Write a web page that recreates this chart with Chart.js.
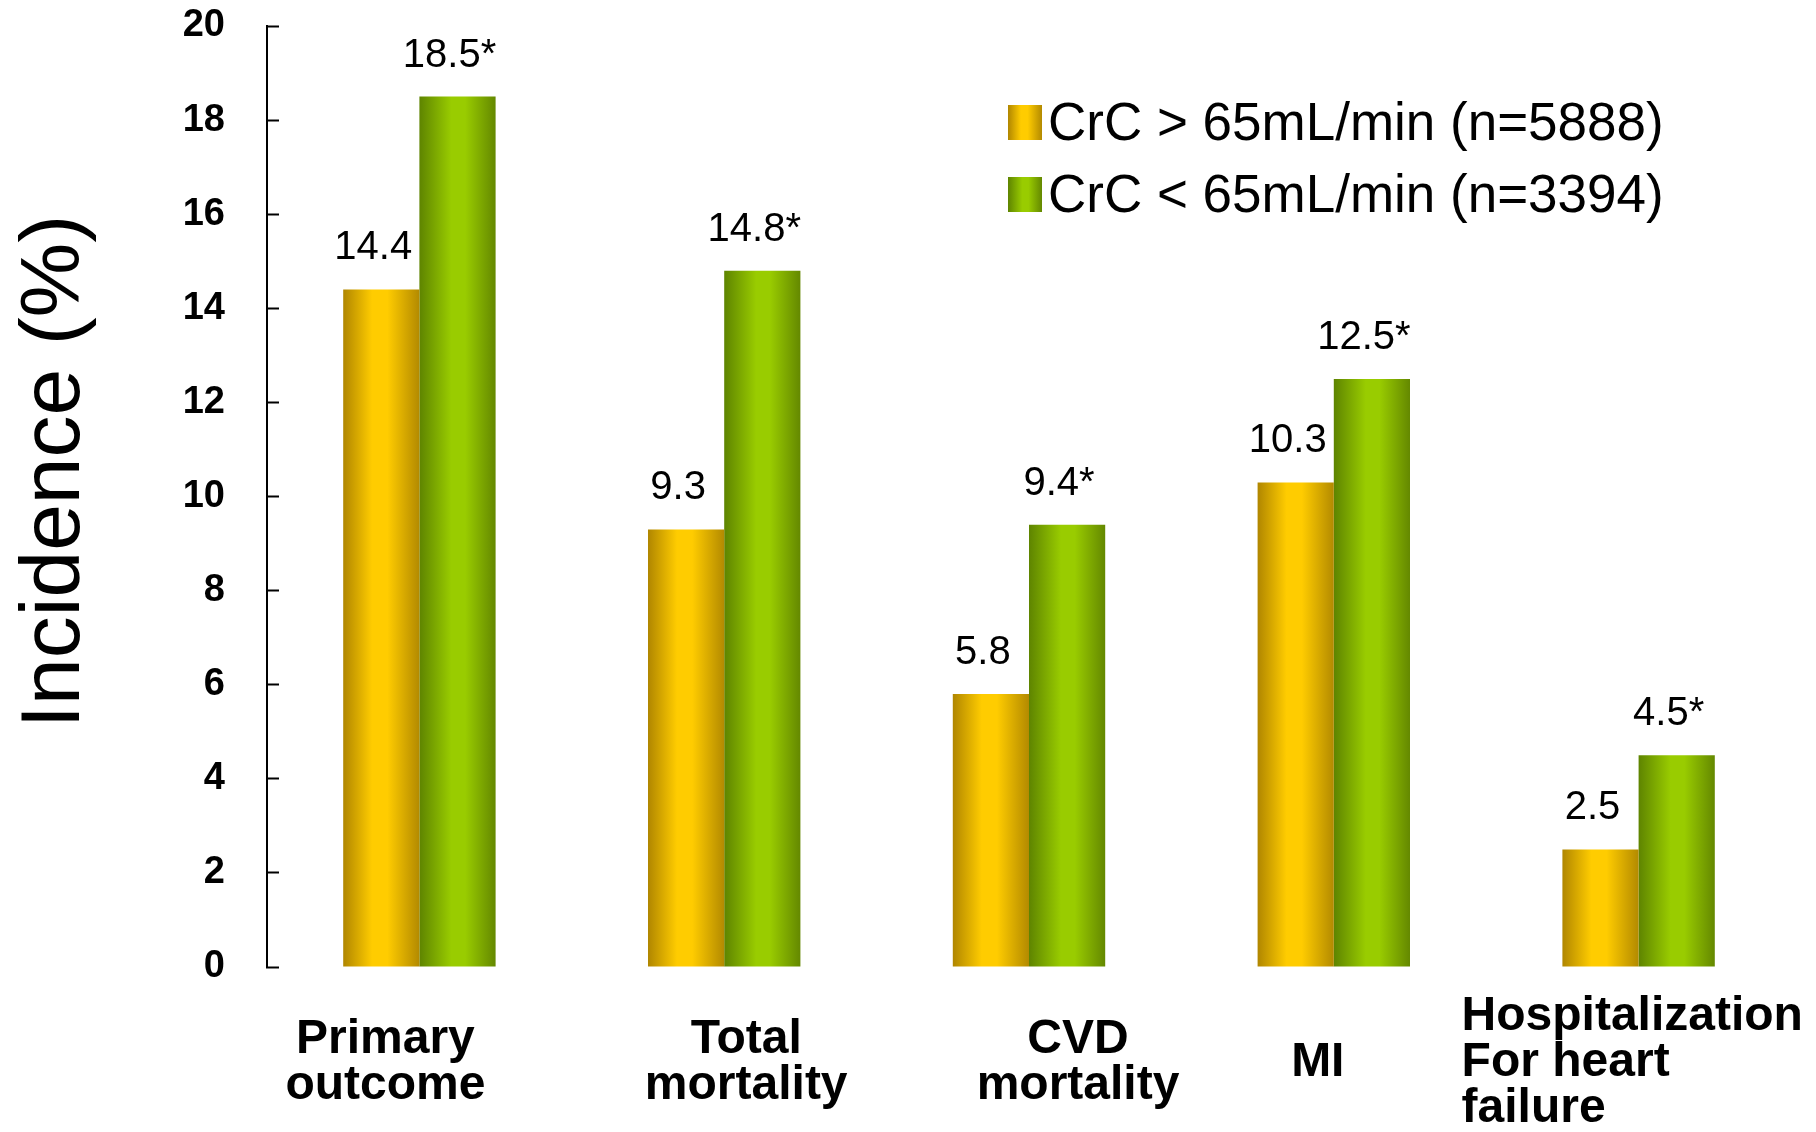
<!DOCTYPE html>
<html>
<head>
<meta charset="utf-8">
<script src="https://cdn.jsdelivr.net/npm/chart.js@4.4.1/dist/chart.umd.min.js"></script>
<style>
  html, body { margin: 0; padding: 0; background: #fff; }
  #chart { display: block; }
</style>
</head>
<body>
<canvas id="chart" width="1816" height="1132"></canvas>
<script>
  // data
  var categories = [['Primary', 'outcome'], ['Total', 'mortality'], ['CVD', 'mortality'], ['MI'], ['Hospitalization', 'For heart', 'failure']];
  var seriesNames = ['CrC > 65mL/min (n=5888)', 'CrC < 65mL/min (n=3394)'];
  var highCrC = [14.4, 9.3, 5.8, 10.3, 2.5];
  var lowCrC = [18.5, 14.8, 9.4, 12.5, 4.5];
  var valueMarks = ['', '*'];
  var yTitle = 'Incidence (%)';

  var FONT = '"Liberation Sans", Arial, sans-serif';
  var yellowStops = [[0, '#b08600'], [0.38, '#ffcc00'], [0.58, '#ffcc00'], [1, '#b38a00']];
  var greenStops = [[0, '#5e8400'], [0.42, '#99cc00'], [0.6, '#99cc00'], [1, '#648800']];

  function makeGradient(c, stops, left, right) {
    var g = c.createLinearGradient(left, 0, right, 0);
    stops.forEach(function(s) { g.addColorStop(s[0], s[1]); });
    return g;
  }

  function barFill(stops) {
    return function(ctx) {
      var chart = ctx.chart, x = chart.scales.x;
      if (!chart.chartArea || !x || ctx.dataIndex === undefined) return stops[1][1];
      var w = x.width / chart.data.labels.length * 0.5 / 2;
      var center = x.getPixelForValue(ctx.dataIndex);
      var left = center + (ctx.datasetIndex - 1) * w;
      return makeGradient(chart.ctx, stops, left, left + w);
    };
  }

  var valueLabels = {
    id: 'valueLabels',
    afterDatasetsDraw: function(chart) {
      var c = chart.ctx;
      c.save();
      c.font = '40px ' + FONT;
      c.fillStyle = '#000';
      c.textAlign = 'center';
      c.textBaseline = 'alphabetic';
      chart.data.datasets.forEach(function(ds, di) {
        chart.getDatasetMeta(di).data.forEach(function(bar, i) {
          c.fillText(ds.data[i] + valueMarks[di], bar.x - 8, bar.y - 30);
        });
      });
      c.restore();
    }
  };

  var categoryLabels = {
    id: 'categoryLabels',
    afterDraw: function(chart, args, opts) {
      var c = chart.ctx, x = chart.scales.x;
      var last = chart.data.labels.length - 1;
      var lh = 46, mid = chart.chartArea.bottom + 109;
      c.save();
      c.font = 'bold 48px ' + FONT;
      c.fillStyle = '#000';
      c.textBaseline = 'alphabetic';
      chart.data.labels.forEach(function(lines, i) {
        var px = x.getPixelForValue(i) + opts.shift[i];
        c.textAlign = i === last ? 'left' : 'center';
        var y0 = mid - (lines.length - 1) * lh / 2;
        lines.forEach(function(t, k) { c.fillText(t, px, y0 + k * lh); });
      });
      c.restore();
    }
  };

  var sideTitle = {
    id: 'sideTitle',
    afterDraw: function(chart) {
      var c = chart.ctx, a = chart.chartArea;
      c.save();
      c.translate(79, (a.top + a.bottom) / 2 - 25);
      c.rotate(-Math.PI / 2);
      c.font = '84px ' + FONT;
      c.fillStyle = '#000';
      c.textAlign = 'center';
      c.textBaseline = 'alphabetic';
      c.fillText(yTitle, 0, 0);
      c.restore();
    }
  };

  var boxLegend = {
    id: 'boxLegend',
    afterDraw: function(chart) {
      var c = chart.ctx;
      var stops = [yellowStops, greenStops];
      c.save();
      c.font = '53px ' + FONT;
      c.textAlign = 'left';
      c.textBaseline = 'alphabetic';
      chart.data.datasets.forEach(function(ds, i) {
        var top = 105 + i * 72;
        c.fillStyle = makeGradient(c, stops[i], 1008, 1042);
        c.fillRect(1008, top, 34, 35);
        c.fillStyle = '#000';
        c.fillText(ds.label, 1048, top + 35);
      });
      c.restore();
    }
  };

  new Chart(document.getElementById('chart'), {
    type: 'bar',
    data: {
      labels: categories,
      datasets: [{
        label: seriesNames[0],
        data: highCrC,
        backgroundColor: barFill(yellowStops),
        borderWidth: 0,
        categoryPercentage: 0.5,
        barPercentage: 1.0
      }, {
        label: seriesNames[1],
        data: lowCrC,
        backgroundColor: barFill(greenStops),
        borderWidth: 0,
        categoryPercentage: 0.5,
        barPercentage: 1.0
      }]
    },
    options: {
      responsive: false,
      devicePixelRatio: 1,
      animation: false,
      layout: { padding: { top: 26, right: 25, left: 0, bottom: 0 } },
      plugins: {
        legend: { display: false },
        tooltip: { enabled: false },
        categoryLabels: { shift: [-34, 22, 49, -16, -177] }
      },
      scales: {
        x: {
          grid: { display: false },
          border: { display: false },
          ticks: { display: false },
          afterFit: function(s) { s.height = 165; }
        },
        y: {
          min: 0,
          max: 20,
          ticks: {
            stepSize: 2,
            color: '#000',
            padding: 54,
            font: { family: FONT, size: 38, weight: 'bold' }
          },
          grid: {
            drawOnChartArea: false,
            drawTicks: true,
            tickLength: -12,
            tickColor: '#000',
            tickWidth: 2
          },
          border: { display: true, color: '#000', width: 2 },
          afterFit: function(s) {
            s.width = 267;
            s.paddingTop = 20;
            s.paddingBottom = 20;
          }
        }
      }
    },
    plugins: [valueLabels, categoryLabels, sideTitle, boxLegend]
  });
</script>
</body>
</html>
